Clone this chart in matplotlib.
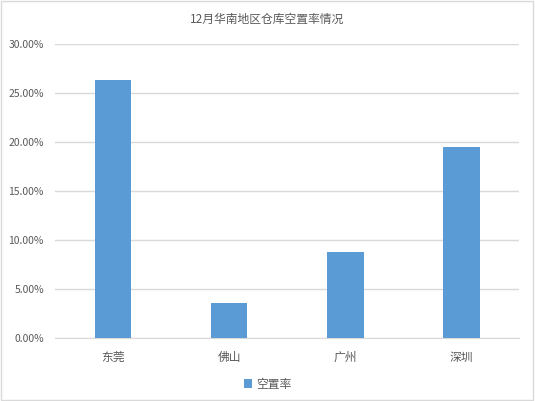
import matplotlib.pyplot as plt
from matplotlib.patches import Rectangle
from matplotlib.ticker import PercentFormatter

plt.rcParams['font.family'] = ['Noto Sans CJK SC', 'DejaVu Sans']

cities = ['东莞', '佛山', '广州', '深圳']
vacancy = [26.36, 3.60, 8.81, 19.52]  # %
ticks = [0, 5, 10, 15, 20, 25, 30]

txt = '#595959'
fig = plt.figure(figsize=(5.35, 4.01), dpi=100)
fig.patches.append(Rectangle((0.002, 0.002), 0.995, 0.995, transform=fig.transFigure,
                             fill=False, edgecolor='#D9D9D9', linewidth=1))
ax = fig.add_axes([0.1028, 0.1564, 0.868, 0.733])

ax.bar(cities, vacancy, width=0.315, color='#5B9BD5', label='空置率', zorder=3)
ax.set_ylim(0, 30)
ax.set_yticks(ticks)
ax.yaxis.set_major_formatter(PercentFormatter(decimals=2))
ax.set_xlim(-0.5, 3.5)
ax.grid(axis='y', color='#D9D9D9', linewidth=1, zorder=0)
for s in ['top', 'right', 'left']:
    ax.spines[s].set_visible(False)
ax.spines['bottom'].set_color('#D9D9D9')
ax.tick_params(axis='both', length=0, colors=txt)
ax.tick_params(axis='y', labelsize=7.5, pad=8)
ax.tick_params(axis='x', labelsize=8.5, pad=9)

fig.text(0.5, 0.953, '12月华南地区仓库空置率情况', ha='center', va='center', fontsize=8.5, color=txt)
fig.legend(loc='center', bbox_to_anchor=(0.5, 0.042), frameon=False, fontsize=8.5,
           handlelength=0.7, handleheight=0.7, handletextpad=0.3, labelcolor=txt)

fig.savefig('out.png', dpi=100)
